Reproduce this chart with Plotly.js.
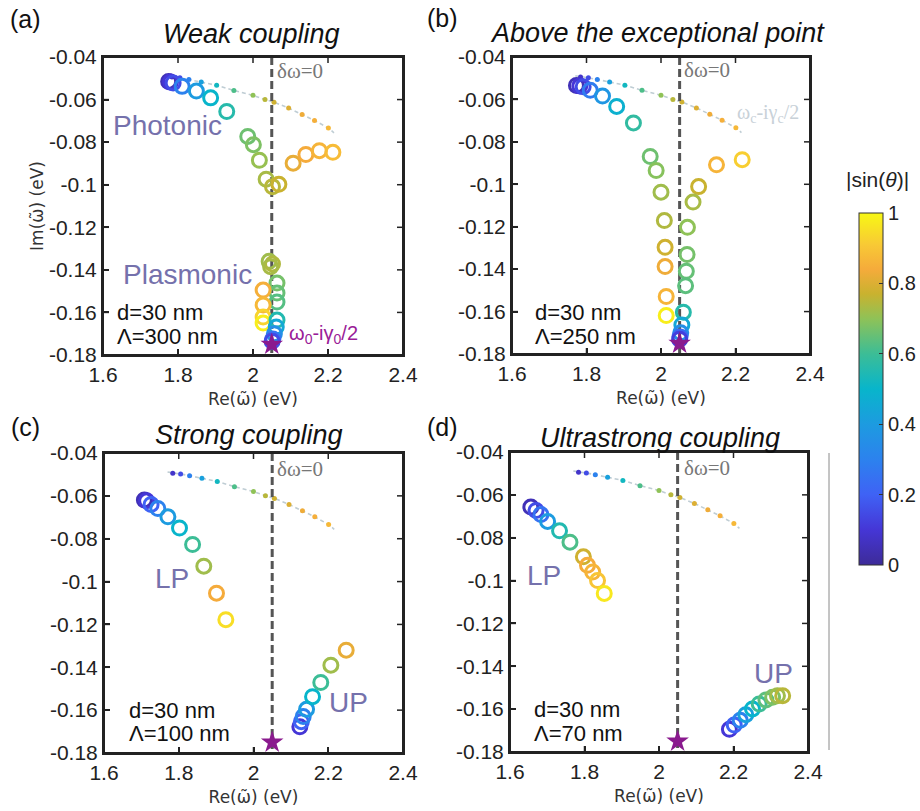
<!DOCTYPE html>
<html><head><meta charset="utf-8">
<script src="https://cdn.plot.ly/plotly-3.0.1.min.js"></script>
<style>html,body{margin:0;padding:0;background:#fff}#chart{width:920px;height:811px}</style>
</head><body><div id="chart"></div>
<script>
// ---- bare cavity mode (same in all panels) ----
const cavityRe = [1.770, 1.784, 1.805, 1.829, 1.862, 1.903, 1.949, 2.000, 2.032, 2.056, 2.095, 2.131, 2.164, 2.201, 2.216];
const cavityIm = [-0.0489, -0.0494, -0.0498, -0.0506, -0.0518, -0.0533, -0.0557, -0.0580, -0.0600, -0.0612, -0.0640, -0.0670, -0.0698, -0.0734, -0.0756];
const cavityDotRe = [1.784, 1.805, 1.829, 1.862, 1.903, 1.949, 2.000, 2.032, 2.056, 2.095, 2.131, 2.164, 2.201];
const cavityDotIm = [-0.0494, -0.0498, -0.0506, -0.0518, -0.0533, -0.0557, -0.0580, -0.0600, -0.0612, -0.0640, -0.0670, -0.0698, -0.0734];
const cavityDotSin = [0.08, 0.15, 0.30, 0.42, 0.52, 0.62, 0.70, 0.75, 0.78, 0.80, 0.83, 0.85, 0.87];

// plasmon resonance and zero detuning
const omega0 = [2.05];
const halfGamma0 = [-0.175];
const detuningLineRe = [2.05, 2.05];
const detuningLineIm = [-0.04, -0.18];

// ---- (a) weak coupling, Lambda = 300 nm ----
const aRe = [1.775, 1.780, 1.787, 1.811, 1.849, 1.887, 1.930, 1.986, 2.001, 2.017, 2.035, 2.052, 2.069, 2.107, 2.141, 2.177, 2.213,
             2.043, 2.052, 2.047, 2.064, 2.064, 2.064, 2.027, 2.027, 2.027, 2.027, 2.064, 2.062, 2.057, 2.053, 2.051];
const aIm = [-0.0515, -0.0518, -0.0522, -0.0538, -0.0560, -0.0592, -0.0656, -0.0773, -0.0812, -0.0885, -0.0974, -0.1009, -0.0998, -0.0899, -0.0858, -0.0840, -0.0848,
             -0.1360, -0.1372, -0.1385, -0.1462, -0.1509, -0.1551, -0.1495, -0.1565, -0.1622, -0.1650, -0.1636, -0.1668, -0.1700, -0.1725, -0.1735];
const aSin = [0.05, 0.10, 0.15, 0.30, 0.40, 0.50, 0.56, 0.66, 0.68, 0.71, 0.73, 0.75, 0.77, 0.82, 0.84, 0.86, 0.88,
              0.72, 0.74, 0.73, 0.67, 0.65, 0.63, 0.85, 0.87, 0.93, 0.98, 0.55, 0.45, 0.35, 0.25, 0.15];

// ---- (b) above the exceptional point, Lambda = 250 nm ----
const bRe = [1.773, 1.782, 1.791, 1.810, 1.843, 1.881, 1.926, 1.971, 1.987, 2.000, 2.009, 2.011, 2.011, 2.014, 2.014,
             2.218, 2.149, 2.101, 2.086, 2.071, 2.070, 2.068, 2.066, 2.060, 2.056, 2.053, 2.051, 2.050];
const bIm = [-0.0534, -0.0537, -0.0540, -0.0557, -0.0584, -0.0633, -0.0711, -0.0869, -0.0935, -0.1037, -0.1171, -0.1297, -0.1388, -0.1529, -0.1619,
             -0.0884, -0.0908, -0.1011, -0.1084, -0.1203, -0.1331, -0.1410, -0.1478, -0.1603, -0.1663, -0.1700, -0.1720, -0.1730];
const bSin = [0.05, 0.10, 0.15, 0.28, 0.38, 0.48, 0.58, 0.66, 0.69, 0.72, 0.74, 0.78, 0.83, 0.86, 0.98,
              0.92, 0.86, 0.77, 0.73, 0.70, 0.67, 0.65, 0.64, 0.56, 0.45, 0.35, 0.22, 0.12];

// ---- (c) strong coupling, Lambda = 100 nm ----
const cRe = [1.708, 1.714, 1.726, 1.744, 1.771, 1.802, 1.837, 1.867, 1.901, 1.926,
             2.124, 2.128, 2.133, 2.142, 2.158, 2.180, 2.207, 2.248];
const cIm = [-0.0619, -0.0623, -0.0640, -0.0659, -0.0698, -0.0750, -0.0827, -0.0928, -0.1054, -0.1178,
             -0.1678, -0.1654, -0.1630, -0.1596, -0.1537, -0.1471, -0.1390, -0.1320];
const cSin = [0.05, 0.10, 0.20, 0.30, 0.40, 0.50, 0.60, 0.72, 0.84, 0.95,
              0.10, 0.20, 0.30, 0.40, 0.50, 0.60, 0.72, 0.82];

// ---- (d) ultrastrong coupling, Lambda = 70 nm ----
const dRe = [1.656, 1.670, 1.683, 1.701, 1.733, 1.761, 1.797, 1.808, 1.822, 1.835, 1.853,
             2.189, 2.202, 2.218, 2.233, 2.251, 2.269, 2.287, 2.305, 2.318, 2.332];
const dIm = [-0.0657, -0.0673, -0.0692, -0.0724, -0.0768, -0.0821, -0.0889, -0.0929, -0.0960, -0.1000, -0.1060,
             -0.1694, -0.1674, -0.1652, -0.1626, -0.1599, -0.1576, -0.1557, -0.1544, -0.1537, -0.1537];
const dSin = [0.05, 0.15, 0.25, 0.40, 0.55, 0.62, 0.78, 0.84, 0.86, 0.90, 0.97,
              0.10, 0.20, 0.30, 0.42, 0.50, 0.60, 0.64, 0.68, 0.72, 0.75];

// ---- axes and ticks ----
const xRange = [1.6, 2.4];
const yRange = [-0.18, -0.04];
const xTickVals = [1.6, 1.8, 2.0, 2.2, 2.4];
const xTickText = ["1.6", "1.8", "2", "2.2", "2.4"];
const yTickVals = [-0.04, -0.06, -0.08, -0.10, -0.12, -0.14, -0.16, -0.18];
const yTickText = ["-0.04", "-0.06", "-0.08", "-0.1", "-0.12", "-0.14", "-0.16", "-0.18"];
const cbTickVals = [0, 0.2, 0.4, 0.6, 0.8, 1];
const cbTickText = ["0", "0.2", "0.4", "0.6", "0.8", "1"];

// ---- layout helpers ----
const W = 920, H = 811;
const px = x => x / W;
const py = y => 1 - y / H;
const FONT = "Liberation Sans, Arial, Helvetica, sans-serif";
const SERIF = "Liberation Serif, Times New Roman, serif";
const TILDE = "DejaVu Sans, Liberation Sans, sans-serif";
const LABEL = "#7571ac";
const INK = "#222222";
const TICKLEN = 6;

const panels = [
  {sx: "", re: aRe, im: aIm, s: aSin, box: [103, 403, 57, 355]},
  {sx: "2", re: bRe, im: bIm, s: bSin, box: [512, 810, 57, 354]},
  {sx: "3", re: cRe, im: cIm, s: cSin, box: [104, 403, 453, 753]},
  {sx: "4", re: dRe, im: dIm, s: dSin, box: [510, 808, 452, 752]}
];

// colorbar geometry (pixels); the default 10px pad sits left of the bar
const CB = {x0: 859, x1: 883, top: 203, bottom: 575, pad: 10};

const traces = [];
const shapes = [
  {type: "line", xref: "paper", yref: "paper", x0: px(829), x1: px(829), y0: py(453), y1: py(750),
   line: {color: "#8a8a8a", width: 1}}
];

const layout = {
  width: W, height: H,
  margin: {l: 0, r: 0, t: 0, b: 0, autoexpand: false},
  paper_bgcolor: "#ffffff", plot_bgcolor: "rgba(0,0,0,0)",
  showlegend: false,
  font: {family: FONT, color: INK},
  coloraxis: {
    cmin: 0, cmax: 1,
    colorscale: [
      [0.00, "#3d2b98"], [0.10, "#4536d6"], [0.20, "#3f62f5"], [0.30, "#2c82ee"],
      [0.40, "#1d9be0"], [0.50, "#08b5cb"], [0.60, "#3cbd96"], [0.70, "#8fc257"],
      [0.77, "#c9b22f"], [0.84, "#f5ab3b"], [0.91, "#f8c935"], [1.00, "#f8f814"]
    ],
    colorbar: {
      x: px(CB.x0 - CB.pad), xanchor: "left",
      y: py((CB.top + CB.bottom) / 2), yanchor: "middle",
      len: CB.bottom - CB.top, lenmode: "pixels",
      thickness: CB.x1 - CB.x0, thicknessmode: "pixels",
      outlinewidth: 1, outlinecolor: "#333333",
      ticks: "inside", ticklen: 4, tickcolor: "#333333",
      tickvals: cbTickVals, ticktext: cbTickText,
      tickfont: {size: 20, family: FONT, color: INK}
    }
  },
  annotations: [],
  shapes: shapes
};

panels.forEach((p, i) => {
  const xa = "x" + p.sx, ya = "y" + p.sx;
  const [L, R, T, B] = p.box;
  traces.push({type: "scatter", mode: "lines", x: cavityRe, y: cavityIm, xaxis: xa, yaxis: ya,
    line: {color: "#bfcdd4", width: 1.6, dash: "4px,3px"}, hoverinfo: "skip"});
  traces.push({type: "scatter", mode: "markers", x: cavityDotRe, y: cavityDotIm, xaxis: xa, yaxis: ya,
    marker: {size: 5, color: cavityDotSin, coloraxis: "coloraxis"}});
  traces.push({type: "scatter", mode: "lines", x: detuningLineRe, y: detuningLineIm, xaxis: xa, yaxis: ya,
    line: {color: "#555555", width: 3, dash: "8px,4px"}, hoverinfo: "skip"});
  traces.push({type: "scatter", mode: "markers", x: p.re, y: p.im, xaxis: xa, yaxis: ya,
    marker: {symbol: "circle-open", size: 14, color: p.s, coloraxis: "coloraxis", line: {width: 3}}});
  traces.push({type: "scatter", mode: "markers", x: omega0, y: halfGamma0, xaxis: xa, yaxis: ya,
    marker: {symbol: "star", size: 17, color: "#8a1a8e"}});

  // axis box traced on the axis limits (backs up the axis lines)
  traces.push({type: "scatter", mode: "lines", xaxis: xa, yaxis: ya, hoverinfo: "skip",
    x: [xRange[0], xRange[1], xRange[1], xRange[0], xRange[0]],
    y: [yRange[0], yRange[0], yRange[1], yRange[1], yRange[0]],
    line: {color: INK, width: 2}});
  // inside tick marks on all four sides, at the tick values
  const dx = TICKLEN / (R - L) * (xRange[1] - xRange[0]);
  const dy = TICKLEN / (B - T) * (yRange[1] - yRange[0]);
  const tx = [], ty = [];
  xTickVals.forEach(v => {
    tx.push(v, v, null, v, v, null);
    ty.push(yRange[0], yRange[0] + dy, null, yRange[1], yRange[1] - dy, null);
  });
  yTickVals.forEach(v => {
    tx.push(xRange[0], xRange[0] + dx, null, xRange[1], xRange[1] - dx, null);
    ty.push(v, v, null, v, v, null);
  });
  traces.push({type: "scatter", mode: "lines", xaxis: xa, yaxis: ya, hoverinfo: "skip",
    x: tx, y: ty, connectgaps: false, line: {color: INK, width: 1.5}});

  const common = {
    showline: true, linewidth: 2, linecolor: INK, mirror: true,
    ticks: "inside", ticklen: TICKLEN, tickwidth: 1.5, tickcolor: INK,
    showgrid: false, zeroline: false,
    tickfont: {size: 21, family: FONT, color: INK}
  };
  layout["xaxis" + p.sx] = Object.assign({}, common, {
    domain: [px(L), px(R)], anchor: ya, range: xRange,
    tickmode: "array", tickvals: xTickVals, ticktext: xTickText,
    title: {text: "Re(ω̃) (eV)", standoff: 8, font: {family: TILDE, size: 17, color: "#333333"}}
  });
  const yax = Object.assign({}, common, {
    domain: [py(B), py(T)], anchor: xa, range: yRange,
    tickmode: "array", tickvals: yTickVals, ticktext: yTickText
  });
  if (i === 0) yax.title = {text: "Im(ω̃) (eV)", font: {family: TILDE, size: 17, color: "#333333"}};
  layout["yaxis" + p.sx] = yax;
});

function ann(text, x, y, opts) {
  layout.annotations.push(Object.assign({
    text: text, xref: "paper", yref: "paper", x: px(x), y: py(y),
    xanchor: "center", yanchor: "middle", showarrow: false,
    font: {family: FONT, size: 20, color: INK}
  }, opts || {}));
}

// panel letters and titles
const letter = {family: FONT, size: 25, color: "#111111"};
const ttl = {family: FONT, size: 27, color: "#111111"};
ann("(a)", 25, 19, {font: letter});
ann("(b)", 442, 18, {font: letter});
ann("(c)", 25, 427, {font: letter});
ann("(d)", 442, 427, {font: letter});
ann("<i>Weak coupling</i>", 252, 34, {font: ttl});
ann("<i>Above the exceptional point</i>", 657, 33, {font: ttl});
ann("<i>Strong coupling</i>", 249, 435, {font: ttl});
ann("<i>Ultrastrong coupling</i>", 660, 438, {font: ttl});

// zero detuning labels
[[275, 71], [682, 70], [275, 469], [682, 468]].forEach(q =>
  ann("δω=0", q[0], q[1], {xanchor: "left", font: {family: SERIF, size: 21, color: "#777777"}}));

// region labels
const big = {family: FONT, size: 28, color: LABEL};
ann("Photonic", 167, 125, {font: big});
ann("Plasmonic", 187, 274, {font: big});
ann("LP", 172, 578, {font: big});
ann("UP", 348, 702, {font: big});
ann("LP", 544, 575, {font: big});
ann("UP", 773, 673, {font: big});

// parameters
const par = {family: FONT, size: 22, color: "#111111"};
ann("d=30 nm", 115, 312, {xanchor: "left", font: par});
ann("Λ=300 nm", 115, 336, {xanchor: "left", font: par});
ann("d=30 nm", 533, 312, {xanchor: "left", font: par});
ann("Λ=250 nm", 533, 336, {xanchor: "left", font: par});
ann("d=30 nm", 127, 710, {xanchor: "left", font: par});
ann("Λ=100 nm", 127, 733, {xanchor: "left", font: par});
ann("d=30 nm", 532, 709, {xanchor: "left", font: par});
ann("Λ=70 nm", 532, 733, {xanchor: "left", font: par});

ann("ω<sub>0</sub>-iγ<sub>0</sub>/2", 287, 335, {xanchor: "left", font: {family: FONT, size: 20, color: "#9a1c98"}});
ann("ω<sub>c</sub>-iγ<sub>c</sub>/2", 735, 113, {xanchor: "left", font: {family: SERIF, size: 20, color: "#c8d1d8"}});

// colorbar title
ann("|sin(<i>θ</i>)|", 877, 180, {font: {family: FONT, size: 21, color: INK}});

Plotly.newPlot("chart", traces, layout, {displayModeBar: false});
</script></body></html>
